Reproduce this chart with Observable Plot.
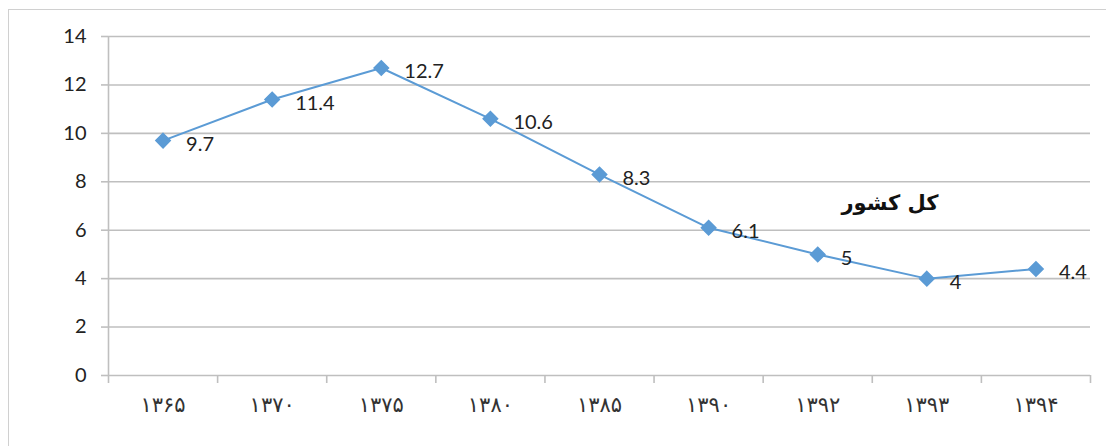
<!DOCTYPE html>
<html>
<head>
<meta charset="utf-8">
<script src="https://cdn.jsdelivr.net/npm/d3@7"></script>
<script src="https://cdn.jsdelivr.net/npm/@observablehq/plot@0.6"></script>
<style>
  html, body { margin: 0; padding: 0; background: #fff; }
  #wrap { position: relative; width: 1106px; height: 446px; overflow: hidden; }
  #frame { position: absolute; left: 8px; top: 9px; width: 1110px; height: 460px; border: 1px solid #d0d0d0; box-sizing: border-box; pointer-events: none; }
  #legend { position: absolute; left: 820px; top: 191px; width: 140px; text-align: center; font-family: "DejaVu Sans", sans-serif; font-weight: bold; font-size: 21px; color: #111; direction: rtl; }
</style>
</head>
<body>
<div id="wrap">
  <div id="frame"></div>
  <div id="chart"></div>
  <div id="legend"></div>
</div>
<script>
const years = ["۱۳۶۵", "۱۳۷۰", "۱۳۷۵", "۱۳۸۰", "۱۳۸۵", "۱۳۹۰", "۱۳۹۲", "۱۳۹۳", "۱۳۹۴"];
const values = [9.7, 11.4, 12.7, 10.6, 8.3, 6.1, 5, 4, 4.4];
const yTicks = [0, 2, 4, 6, 8, 10, 12, 14];
const seriesName = "کل کشور";

const data = years.map((y, i) => ({year: y, i: i + 0.5, value: values[i]}));
const boundaries = d3.range(years.length + 1);
const centers = years.map((_, i) => i + 0.5);

const blue = "#5B9BD5";
const grid = "#bfbfbf";

const chart = Plot.plot({
  width: 1106,
  height: 446,
  marginLeft: 108,
  marginRight: 16,
  marginTop: 36,
  marginBottom: 71,
  style: {fontFamily: "Lato, 'Open Sans', sans-serif", background: "transparent"},
  x: {domain: [0, years.length], axis: null},
  y: {domain: [0, 14], axis: null},
  marks: [
    Plot.gridY(yTicks, {stroke: grid, strokeOpacity: 1, strokeWidth: 1.6}),
    Plot.axisY({ticks: yTicks, label: null, tickSize: 7, tickPadding: 15, stroke: grid, strokeWidth: 1.6, fontSize: 20, fill: "#222", tickFormat: d => String(d)}),
    Plot.ruleX([0], {y1: 0, y2: 14, stroke: grid, strokeWidth: 1.6}),
    Plot.axisX({ticks: boundaries, label: null, tickSize: 8, tickFormat: () => "", stroke: grid, strokeWidth: 1.6}),
    Plot.axisX({ticks: centers, label: null, tickSize: 0, tickPadding: 22, tickFormat: (d) => years[Math.round(d - 0.5)], fontSize: 21, fill: "#333", fontFamily: "'DejaVu Sans', sans-serif"}),
    Plot.line(data, {x: "i", y: "value", stroke: blue, strokeWidth: 2}),
    Plot.dot(data, {x: "i", y: "value", symbol: "diamond2", r: 6.5, fill: blue, stroke: blue}),
    Plot.text(data, {x: "i", y: "value", text: d => String(d.value), textAnchor: "start", dx: 23, dy: 4, fontSize: 20, fill: "#222"})
  ]
});
document.getElementById("chart").appendChild(chart);
document.getElementById("legend").textContent = seriesName;
</script>
</body>
</html>
